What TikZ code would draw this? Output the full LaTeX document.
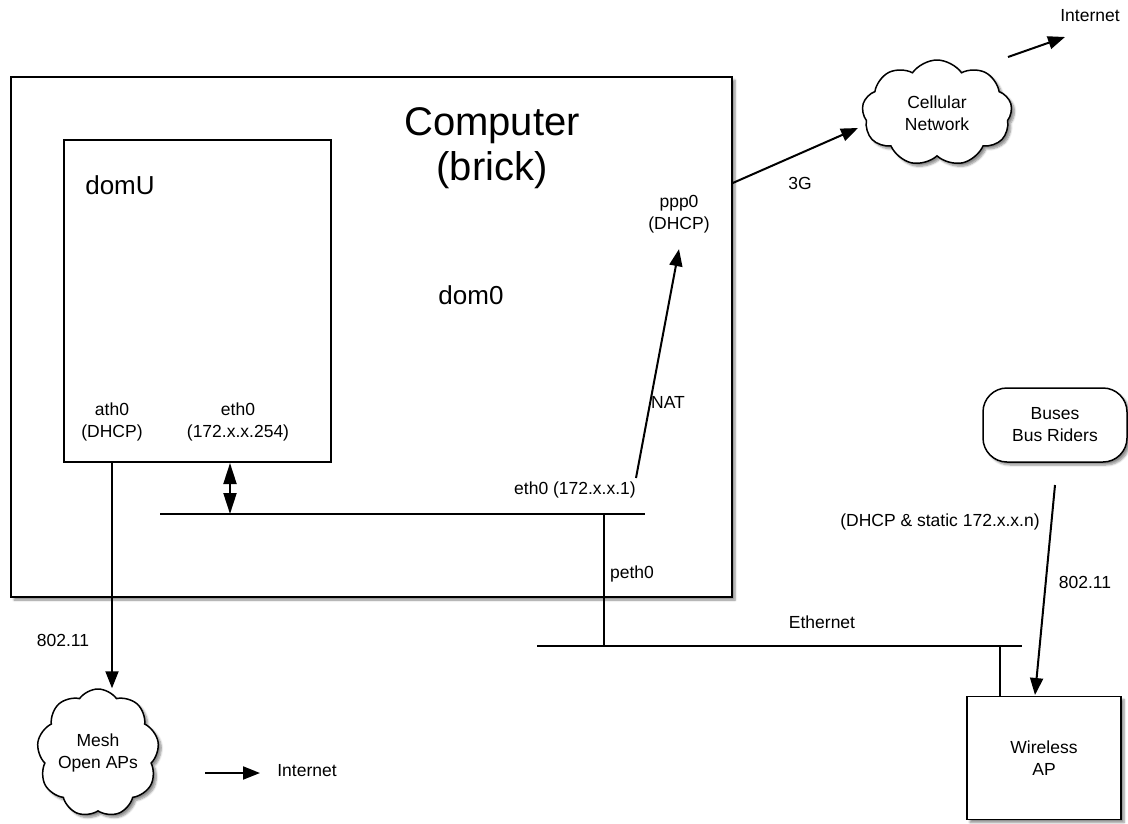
\documentclass[tikz,border=0pt]{standalone}
\usepackage{fontspec}
\setmainfont{Liberation Sans}
\usepackage{tikz}
\usetikzlibrary{arrows.meta,positioning,shapes.symbols,shadows.blur,calc}

\begin{document}
\begin{tikzpicture}[x=1pt,y=-1pt,
    lbl/.style={font=\fontsize{17.5}{22}\selectfont, align=center, inner sep=2pt},
    plain/.style={draw, line width=1.5pt, fill=white},
    boxed/.style={plain,
      blur shadow={shadow xshift=3pt, shadow yshift=-3pt, shadow blur steps=6, shadow opacity=45}},
    net/.style={boxed, cloud, cloud puffs=9, cloud puff arc=110, cloud ignores aspect, lbl},
    arr/.style={line width=2pt, -{Triangle[length=17pt,width=13pt]}},
    dbl/.style={line width=2pt, {Triangle[length=21pt,width=13pt]}-{Triangle[length=21pt,width=13pt]}},
    wire/.style={line width=2pt}]
  \useasboundingbox (0,0) rectangle (1128,823);
  % computer and the guest domain
  \node[boxed, minimum width=721pt, minimum height=520pt] (comp) at (371.5,337) {};
  \node[plain, minimum width=267pt, minimum height=322pt] (domU) at (197.5,301) {};
  \node[font=\fontsize{40}{45}\selectfont, align=center] (title) at (492,148) {Computer\\(brick)};
  \node[font=\fontsize{26}{30}\selectfont] (domUt) at (120,185) {domU};
  \node[font=\fontsize{26}{30}\selectfont] (dom0) at (471,295) {dom0};
  % interfaces
  \node[lbl] (ppp0) at (679,214) {ppp0\\(DHCP)};
  \node[lbl] (ath0) at (112,422) {ath0\\(DHCP)};
  \node[lbl] (eth0u) at (238,422) {eth0\\(172.x.x.254)};
  \node[lbl] (eth0d) at (575,490) {eth0 (172.x.x.1)};
  \node[lbl] (nat) at (668,402) {NAT};
  \node[lbl] (peth0) at (632,574) {peth0};
  % outside world
  \node[net, minimum width=150pt, minimum height=106pt] (cell) at (937,113) {Cellular\\Network};
  \node[net, minimum width=120pt, minimum height=128pt] (mesh) at (98,753) {Mesh\\Open APs};
  \node[boxed, lbl, rounded corners=24pt, minimum width=144pt, minimum height=74pt] (bus) at (1055,425) {Buses\\Bus Riders};
  \node[boxed, lbl, minimum width=154pt, minimum height=123pt] (ap) at (1044,758) {Wireless\\AP};
  \node[lbl] (g3) at (800,183) {3G};
  \node[lbl] (inet1) at (1090,16) {Internet};
  \node[lbl] (inet2) at (307,771) {Internet};
  \node[lbl] (w1) at (63,640) {802.11};
  \node[lbl] (w2) at (1085,582) {802.11};
  \node[lbl] (dhcp) at (940,522) {(DHCP \& static 172.x.x.n)};
  \node[lbl] (ethl) at (822,622) {Ethernet};
  % bus lines
  \coordinate (busL) at (160,514);
  \coordinate (busR) at (645,514);
  \coordinate (lanL) at (537,646);
  \coordinate (lanR) at (1022,646);
  \draw[wire] (busL) -- (busR);
  \draw[wire] (lanL) -- (lanR);
  \draw[wire] (604,514) -- (604,646);
  \draw[wire] (1000,646) -- (ap.north west -| 1000,0);
  % connectors
  \draw[dbl] (230,463) -- (busL -| 230,0);
  \draw[arr] (ath0.south |- domU.south) -- (ath0.south |- mesh.north);
  \draw[arr] (636,478) -- ([yshift=-14pt]ppp0.south);
  \draw[arr] (comp.east |- 0,183) -- (858,128);
  \draw[arr] (1008,57) -- (1065,37);
  \draw[arr] (205,773) -- (260,773);
  \draw[arr] (1055,485) -- (1035,695);
\end{tikzpicture}
\end{document}
